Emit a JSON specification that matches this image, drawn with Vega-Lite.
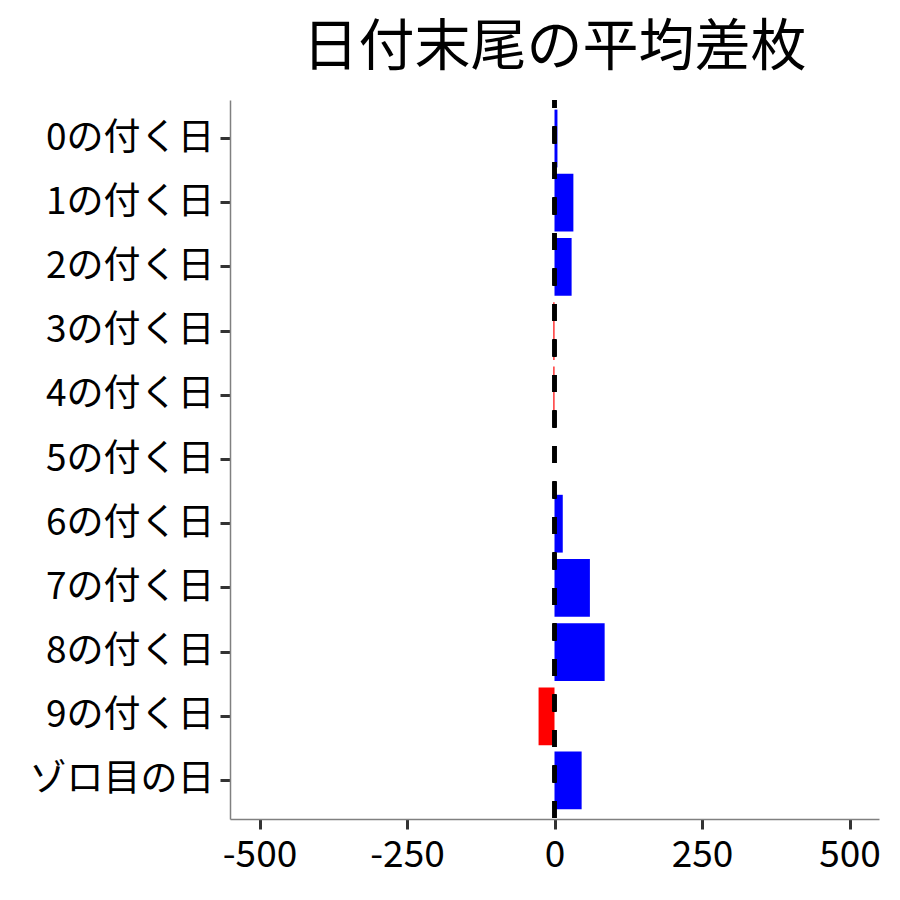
{
  "$schema": "https://vega.github.io/schema/vega-lite/v6.json",
  "width": 649,
  "height": 719,
  "autosize": {"type": "none"},
  "padding": {"left": 230, "top": 100, "right": 21, "bottom": 81},
  "background": "white",
  "title": {
    "text": "日付末尾の平均差枚",
    "font": "Noto Sans CJK JP",
    "fontSize": 56,
    "fontWeight": "normal",
    "color": "black",
    "anchor": "middle",
    "baseline": "bottom",
    "offset": 22,
    "dy": 57
  },
  "config": {
    "view": {"stroke": null},
    "axis": {
      "grid": false,
      "labelFont": "Noto Sans CJK JP",
      "labelFontSize": 37,
      "labelLimit": 400,
      "labelColor": "black",
      "domainColor": "#808080",
      "domainWidth": 1.5,
      "tickColor": "#333333",
      "tickWidth": 3,
      "tickSize": 10,
      "labelPadding": 6,
      "title": null
    }
  },
  "data": {
    "values": [
      {"label": "0の付く日", "value": 5},
      {"label": "1の付く日", "value": 32},
      {"label": "2の付く日", "value": 29},
      {"label": "3の付く日", "value": -2},
      {"label": "4の付く日", "value": -2},
      {"label": "5の付く日", "value": 0},
      {"label": "6の付く日", "value": 14},
      {"label": "7の付く日", "value": 60},
      {"label": "8の付く日", "value": 85},
      {"label": "9の付く日", "value": -27},
      {"label": "ゾロ目の日", "value": 46}
    ]
  },
  "layer": [
    {
      "mark": {"type": "bar"},
      "encoding": {
        "y": {
          "field": "label",
          "type": "nominal",
          "sort": null,
          "scale": {"paddingInner": 0.1, "paddingOuter": 0.15},
          "axis": {"labelPadding": 6}
        },
        "x": {
          "field": "value",
          "type": "quantitative",
          "scale": {"domain": [-550, 550], "nice": false, "zero": false},
          "axis": {
            "values": [-500, -250, 0, 250, 500],
            "labelPadding": 8,
            "labelExpr": "datum.value < 0 ? '-' + abs(datum.value) : '' + datum.value"
          }
        },
        "color": {
          "condition": {"test": "datum.value < 0", "value": "#ff0000"},
          "value": "#0000ff"
        }
      }
    },
    {
      "mark": {"type": "rule", "color": "black", "strokeWidth": 3.5, "strokeDash": [17, 18.5], "strokeDashOffset": 9},
      "encoding": {"x": {"datum": 0, "type": "quantitative"}}
    }
  ]
}
